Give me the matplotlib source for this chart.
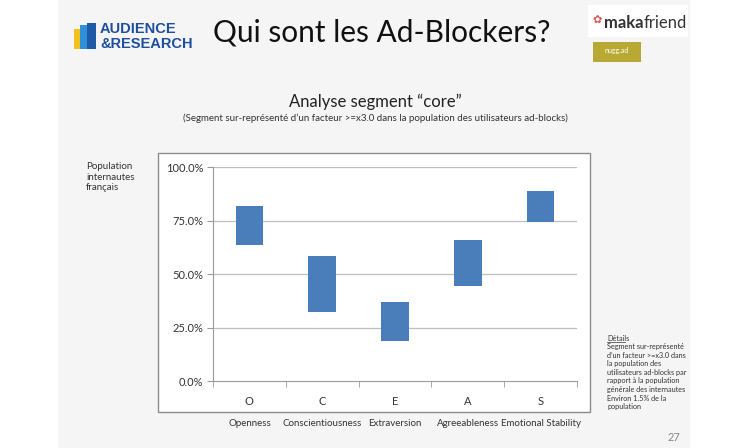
import matplotlib
matplotlib.use("Agg")
import matplotlib.pyplot as plt
from matplotlib.patches import Rectangle
import matplotlib.transforms as mtransforms

# ---- data ----
categories = ["O", "C", "E", "A", "S"]
trait_names = ["Openness", "Conscientiousness", "Extraversion", "Agreeableness", "Emotional Stability"]
low_values = [63.5, 32.3, 18.7, 44.2, 74.2]
high_values = [81.8, 58.3, 37.0, 65.8, 88.8]
y_ticks = [0, 25, 50, 75, 100]
y_tick_labels = ["0.0%", "25.0%", "50.0%", "75.0%", "100.0%"]

FONT = ["Lato", "DejaVu Sans"]
plt.rcParams["font.family"] = FONT

W, H = 750, 448
fig = plt.figure(figsize=(7.5, 4.48), dpi=100)
fig.patch.set_facecolor("white")

def fx(px):
    return px / W

def fy(py):
    return 1 - py / H

# slide background
fig.patches.append(Rectangle((fx(58), 0), fx(690) - fx(58), 1, transform=fig.transFigure,
                             facecolor="#f5f5f5", edgecolor="none", zorder=0))

# logos (approximate)
for c, x0, h in [("#f2c21b", 74, 20), ("#2f8fd8", 80, 24), ("#1e5aa8", 87, 26)]:
    fig.patches.append(Rectangle((fx(x0), fy(49)), fx(9), h / H, transform=fig.transFigure,
                                 facecolor=c, edgecolor="none", zorder=1))
fig.text(fx(100), fy(29), "AUDIENCE", color="#1e4e9e", fontsize=10.5, fontweight="bold",
         ha="left", va="center", family=["Liberation Sans Narrow", "Liberation Sans", "DejaVu Sans"])
fig.text(fx(100), fy(44), "&RESEARCH", color="#1e4e9e", fontsize=10.5, fontweight="bold",
         ha="left", va="center", family=["Liberation Sans Narrow", "Liberation Sans", "DejaVu Sans"])

fig.patches.append(Rectangle((fx(588), fy(37)), fx(100), 32 / H, transform=fig.transFigure,
                             facecolor="white", edgecolor="none", zorder=1))
fig.text(fx(597), fy(20), "\u273f", color="#d9534f", fontsize=8, ha="center", va="center",
         family=["DejaVu Sans"])
fig.text(fx(604), fy(23), "maka", color="#333333", fontsize=12, fontweight="bold",
         ha="left", va="center")
fig.text(fx(644), fy(23), "friend", color="#333333", fontsize=12, ha="left", va="center")
fig.patches.append(Rectangle((fx(593), fy(62)), fx(48), 20 / H, transform=fig.transFigure,
                             facecolor="#b8a934", edgecolor="none", zorder=1))
fig.text(fx(617), fy(51), "nugg.ad", color="white", fontsize=5, ha="center", va="center")

# title
fig.text(fx(382), fy(32), "Qui sont les Ad-Blockers?", fontsize=21.5, color="#111111",
         ha="center", va="center")

# chart titles
fig.text(fx(375), fy(102), "Analyse segment \u201ccore\u201d", fontsize=12, color="#222222",
         ha="center", va="center")
fig.text(fx(375), fy(118), "(Segment sur-repr\u00e9sent\u00e9 d\u2019un facteur >=x3.0 dans la population des utilisateurs ad-blocks)",
         fontsize=7, color="#333333", ha="center", va="center")

fig.text(fx(86), fy(162), "Population\ninternautes\nfran\u00e7ais", fontsize=7, color="#333333",
         ha="left", va="top", linespacing=1.25)

# chart box
fig.patches.append(Rectangle((fx(158), fy(412)), fx(590) - fx(158), (412 - 153) / H,
                             transform=fig.transFigure, facecolor="white",
                             edgecolor="#8c8c8c", linewidth=1.0, zorder=1))

ax = fig.add_axes([fx(213), fy(381), fx(577) - fx(213), (381 - 167) / H])
ax.set_facecolor("none")
ax.set_zorder(2)

xs = list(range(len(categories)))
heights = [h - l for l, h in zip(low_values, high_values)]
ax.bar(xs, heights, bottom=low_values, width=0.38, color="#4a7ebb", edgecolor="none", zorder=3)

ax.set_xlim(-0.5, len(categories) - 0.5)
ax.set_ylim(0, 100)
ax.set_yticks(y_ticks)
ax.set_yticklabels(y_tick_labels, fontsize=8, color="#333333")
for t in y_ticks[1:]:
    ax.axhline(t, color="#bfbfbf", linewidth=0.9, zorder=1)

ax.set_xticks(xs)
ax.set_xticklabels(categories, fontsize=8, color="#333333")
ax.set_xticks([x - 0.5 for x in xs] + [len(xs) - 0.5], minor=True)
ax.tick_params(axis="x", which="major", length=0, pad=11)
ax.tick_params(axis="x", which="minor", length=4, color="#999999", direction="out")
ax.tick_params(axis="y", length=4, color="#999999", direction="out", pad=3)

for s in ["top", "right"]:
    ax.spines[s].set_visible(False)
ax.spines["left"].set_color("#999999")
ax.spines["bottom"].set_color("#999999")

trans = mtransforms.blended_transform_factory(ax.transData, fig.transFigure)
for x, name in zip(xs, trait_names):
    ax.text(x, fy(423), name, transform=trans, fontsize=7, color="#333333",
            ha="center", va="center", clip_on=False)

# details
fig.text(fx(607), fy(338), "D\u00e9tails", fontsize=5.2, color="#333333", ha="left", va="center")
fig.lines.append(plt.Line2D([fx(607), fx(625)], [fy(342), fy(342)], transform=fig.transFigure,
                            color="#333333", linewidth=0.5))
details = ("Segment sur-repr\u00e9sent\u00e9\nd\u2019un facteur >=x3.0 dans\nla population des\n"
           "utilisateurs ad-blocks par\nrapport \u00e0 la population\ng\u00e9n\u00e9rale des internautes\n"
           "Environ 1.5% de la\npopulation")
fig.text(fx(607), fy(343), details, fontsize=5.2, color="#333333", ha="left", va="top",
         linespacing=1.27)

fig.text(fx(680), fy(437), "27", fontsize=8, color="#888888", ha="right", va="center")

fig.savefig("out.png", dpi=100, facecolor=fig.get_facecolor())
